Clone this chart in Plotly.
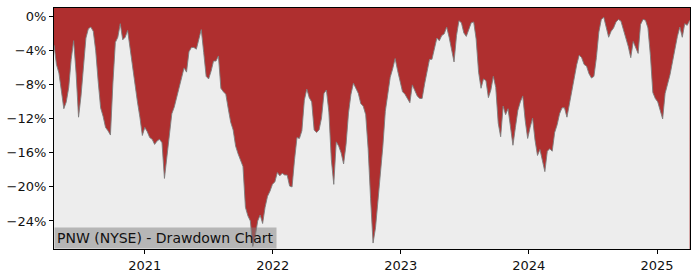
import pandas as pd
import plotly.graph_objects as go

start_date = "2020-04-17"
drawdown_pct = [
    -3.3, -5.6, -6.6, -9.0, -10.8, -10.0, -8.3, -5.0, -2.8, -6.6,
    -11.8, -9.3, -6.0, -2.5, -1.4, -1.2, -1.7, -4.0, -7.6, -10.7,
    -11.7, -13.0, -13.4, -13.9, -7.8, -3.0, -2.4, -0.8, -2.7, -2.4,
    -1.6, -3.8, -6.2, -8.0, -10.0, -11.8, -13.95, -13.0, -13.5, -14.2,
    -14.4, -15.0, -14.6, -14.4, -14.8, -19.0, -16.5, -13.6, -11.4, -10.6,
    -9.5, -8.3, -7.0, -6.0, -6.5, -4.1, -3.6, -3.6, -3.8, -2.8,
    -1.5, -4.2, -7.0, -7.3, -6.4, -5.2, -5.2, -4.6, -8.4, -8.8,
    -9.1, -10.8, -12.4, -13.3, -15.2, -16.1, -16.8, -17.6, -22.4, -23.4,
    -24.0, -27.0, -25.8, -24.0, -23.3, -24.3, -22.4, -21.1, -20.5, -19.7,
    -19.4, -18.3, -18.7, -18.4, -18.6, -18.6, -19.9, -20.0, -16.8, -14.2,
    -14.3, -13.4, -9.8, -8.5, -9.5, -10.0, -13.3, -13.6, -13.3, -11.9,
    -9.0, -8.6, -11.2, -16.8, -19.7, -14.7, -15.2, -16.0, -17.3, -15.0,
    -11.3, -9.1, -7.8, -8.4, -9.0, -10.2, -10.5, -11.5, -15.5, -21.4,
    -26.6, -24.8, -21.6, -19.0, -15.2, -11.1, -9.0, -7.1, -6.1, -4.9,
    -6.3, -7.6, -8.8, -9.1, -9.6, -10.1, -8.0, -8.7, -9.3, -9.6,
    -9.6, -7.9, -6.6, -5.0, -5.0, -3.9, -2.5, -2.8, -2.2, -2.0,
    -1.2, -2.4, -4.0, -5.3, -2.2, -0.45, -0.7, -1.9, -2.3, -1.4,
    -0.7, -0.6, -2.6, -6.5, -8.4, -7.3, -7.5, -9.5, -8.6, -7.0,
    -8.3, -12.5, -14.1, -10.5, -11.5, -10.8, -13.2, -15.1, -13.0, -11.0,
    -10.0, -9.3, -12.2, -14.3, -13.0, -11.9, -14.5, -16.3, -15.6, -17.0,
    -18.2, -15.8, -15.5, -15.8, -13.6, -12.7, -11.4, -10.7, -10.7, -11.8,
    -10.3, -8.8, -6.9, -5.6, -4.5, -4.8, -5.6, -5.8, -6.7, -7.2,
    -7.0, -4.8, -1.8, -0.3, -0.05, -1.2, -2.4, -1.7, -1.3, -0.6,
    -0.3, -0.5, -1.4, -2.5, -3.5, -4.8, -2.9, -3.5, -4.3, -0.9,
    -0.3, -0.4, -1.3, -4.5, -8.9, -9.6, -10.0, -11.0, -12.0, -9.0,
    -7.9, -6.8, -5.3, -3.7, -2.3, -1.2, -2.4, -0.8, -1.0, -0.4,
]
dates = pd.date_range(start=start_date, periods=len(drawdown_pct), freq="7D")

y_tick_vals = [0, -4, -8, -12, -16, -20, -24]
y_tick_text = ["0%", "\u22124%", "\u22128%", "\u221212%", "\u221216%", "\u221220%", "\u221224%"]
x_tick_vals = ["2021-01-01", "2022-01-01", "2023-01-01", "2024-01-01", "2025-01-01"]
x_tick_text = ["2021", "2022", "2023", "2024", "2025"]
title_text = "PNW (NYSE) - Drawdown Chart"

Y_TOP = 1.04
Y_BOTTOM = -27.3
RED = "#AF2F2F"
GRAY_BG = "#EDEDED"
FONT = "DejaVu Sans"

fig = go.Figure()
# baseline below the visible range; the area under the curve is painted light gray,
# the plot background (red) shows above the curve
fig.add_trace(go.Scatter(
    x=dates, y=[Y_BOTTOM - 5] * len(dates), mode="lines",
    line=dict(width=0, color=GRAY_BG), hoverinfo="skip", showlegend=False,
))
fig.add_trace(go.Scatter(
    x=dates, y=drawdown_pct, mode="lines",
    line=dict(color="rgba(125,125,125,0.9)", width=1),
    fill="tonexty", fillcolor=GRAY_BG, hoverinfo="skip", showlegend=False,
))

fig.add_annotation(
    text=title_text, xref="paper", yref="paper", x=0, y=0,
    xanchor="left", yanchor="bottom", showarrow=False,
    font=dict(family=FONT, size=14, color="#111111"),
    bgcolor="rgba(128,128,128,0.5)", borderpad=2,
)

fig.update_layout(
    width=700, height=280,
    margin=dict(l=53, r=10, t=7, b=28),
    paper_bgcolor="white", plot_bgcolor=RED,
    font=dict(family=FONT, size=13, color="#111111"),
    showlegend=False,
)
fig.update_xaxes(
    range=["2020-04-17", "2025-04-05"], type="date",
    tickvals=x_tick_vals, ticktext=x_tick_text,
    ticks="outside", ticklen=4, tickcolor="black", tickwidth=1,
    showline=True, linecolor="black", linewidth=1, mirror=True,
    showgrid=False, zeroline=False,
)
fig.update_yaxes(
    range=[Y_BOTTOM, Y_TOP],
    tickvals=y_tick_vals, ticktext=y_tick_text,
    ticks="outside", ticklen=4, tickcolor="black", tickwidth=1,
    showline=True, linecolor="black", linewidth=1, mirror=True,
    showgrid=False, zeroline=False,
)

fig.write_html("out.html")
